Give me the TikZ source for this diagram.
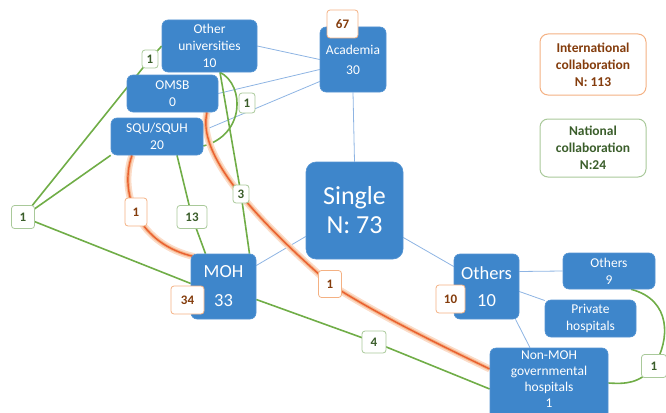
\documentclass[tikz,border=0pt]{standalone}
\usepackage{fontspec}
\setmainfont{Carlito}
\usetikzlibrary{calc}
\definecolor{boxblue}{HTML}{3E86CB}
\definecolor{boxedge}{HTML}{5594D2}
\definecolor{lineblue}{HTML}{8EB4E3}
\definecolor{lgreen}{HTML}{70AD47}
\definecolor{gedge}{HTML}{A9C99A}
\definecolor{gtext}{HTML}{3B5E2B}
\definecolor{oedge}{HTML}{F4B183}
\definecolor{otext}{HTML}{843C0C}
\definecolor{ocore}{HTML}{E9602F}
\definecolor{oglowa}{HTML}{FBDCC8}
\definecolor{oglowb}{HTML}{F6B48A}
\pgfdeclarelayer{bg}
\pgfsetlayers{bg,main}
\tikzset{
  bluebox/.style={draw=boxedge, line width=0.6pt, fill=boxblue, rounded corners=6pt, text=white, align=center, inner sep=0pt, font=\fontsize{13.5}{17}\selectfont},
  glabel/.style={draw=gedge, line width=0.8pt, fill=white, rounded corners=3pt, text=gtext, inner sep=0pt, font=\bfseries\fontsize{13}{15}\selectfont},
  olabel/.style={draw=oedge, line width=0.8pt, fill=white, rounded corners=3pt, text=otext, inner sep=0pt, font=\bfseries\fontsize{13}{15}\selectfont},
  legbox/.style={fill=white, line width=1pt, rounded corners=8pt, align=center, inner sep=0pt, font=\bfseries\fontsize{13.5}{17}\selectfont},
  blueline/.style={draw=lineblue, line width=0.8pt},
  greenline/.style={draw=lgreen, line width=1.6pt},
  orangeline/.style={draw=ocore, line width=1.4pt, preaction={draw=oglowa, line width=7pt}, preaction={draw=oglowb, line width=3.5pt}}
}
\begin{document}
\begin{tikzpicture}[x=1pt, y=-1pt]
\useasboundingbox (0,0) rectangle (666,412);
\clip (0,0) rectangle (666,412);
% blue boxes
\node[bluebox, minimum width=95pt, minimum height=52pt] (ou) at (209.5,46) {Other\\universities\\10};
\node[bluebox, minimum width=91pt, minimum height=37pt] (omsb) at (172.5,93.5) {OMSB\\0};
\node[bluebox, minimum width=92pt, minimum height=37pt] (squ) at (157,136.5) {SQU/SQUH\\20};
\node[bluebox, minimum width=66pt, minimum height=65pt, font=\fontsize{13.5}{20}\selectfont] (ac) at (353,59.5) {Academia\\30};
\node[bluebox, minimum width=97pt, minimum height=97pt, rounded corners=10pt, font=\fontsize{26}{29}\selectfont] (single) at (354.5,210.5) {Single\\N: 73};
\node[bluebox, minimum width=65pt, minimum height=65pt, font=\fontsize{18.5}{29}\selectfont] (moh) at (223.5,286.5) {MOH\\33};
\node[bluebox, minimum width=65pt, minimum height=65pt, font=\fontsize{18.5}{27}\selectfont] (o10) at (486.5,286.5) {Others\\10};
\node[bluebox, minimum width=92pt, minimum height=36pt] (o9) at (609,271) {Others\\9};
\node[bluebox, minimum width=91pt, minimum height=37pt] (priv) at (590.5,318.5) {Private\\hospitals};
\node[bluebox, minimum width=118pt, minimum height=72pt] (nm) at (549,384) {};
\node[text=white, align=center, inner sep=0pt, font=\fontsize{13.5}{16}\selectfont] (nmtext) at (549,379) {Non-MOH\\governmental\\hospitals\\1};
% legend
\node[legbox, draw=oedge, text=otext, minimum width=106pt, minimum height=61pt] (intl) at (593,64.5) {International\\collaboration\\N: 113};
\node[legbox, draw=gedge, text=gtext, minimum width=106pt, minimum height=58pt] (natl) at (593,148) {National\\collaboration\\N:24};
% labels
\node[olabel, minimum width=31pt, minimum height=28pt] (l67) at (342.5,24) {67};
\node[glabel, minimum width=16pt, minimum height=18pt] (top1) at (150,59) {1};
\node[glabel, minimum width=16pt, minimum height=20pt] (arc1) at (247,103) {1};
\node[glabel, minimum width=16pt, minimum height=18pt] (l3) at (241,194) {3};
\node[glabel, minimum width=23pt, minimum height=23pt] (left1) at (23,217) {1};
\node[olabel, minimum width=22pt, minimum height=28pt] (ol1) at (136,212) {1};
\node[glabel, minimum width=30pt, minimum height=23pt] (l13) at (192,217) {13};
\node[olabel, minimum width=23pt, minimum height=27pt] (om1) at (330,284) {1};
\node[olabel, minimum width=33pt, minimum height=28pt] (l34) at (187.5,300) {34};
\node[olabel, minimum width=29pt, minimum height=28pt] (l10) at (450.5,299) {10};
\node[glabel, minimum width=24pt, minimum height=22pt] (l4) at (374,342) {4};
\node[glabel, minimum width=25pt, minimum height=23pt] (r1) at (654,366) {1};
% connectors
\begin{pgfonlayer}{bg}
\draw[blueline] (ou.east) -- (ac.west);
\draw[blueline] (omsb.east) -- ([yshift=-10pt]ac.west);
\draw[blueline] ([yshift=6pt]squ.east) -- ([yshift=-22pt]ac.west);
\draw[blueline] (ac.south) -- (single.north);
\draw[blueline] ([yshift=-26pt]single.west) -- ([yshift=21pt]moh.east);
\draw[blueline] ([yshift=-27pt]single.east) -- ([yshift=20pt]o10.west);
\draw[blueline] ([yshift=15pt]o10.east) -- (o9.west);
\draw[blueline] ([yshift=-5pt]o10.east) -- ([yshift=18pt]priv.west);
\draw[blueline] ([xshift=29pt]o10.south) -- ([xshift=-19pt]nm.north);
% green
\draw[greenline] (ou.west) -- (top1.center) -- (left1.center);
\draw[greenline] (left1.center) -- (squ.south west);
\draw[greenline] (left1.center) -- ([yshift=3pt]moh.west);
\draw[greenline] ([yshift=-13pt]moh.east) -- (l4.center) -- ([yshift=-5pt]nm.west);
\draw[greenline] ([xshift=20pt]squ.south) -- (l13.center) -- ([xshift=-18pt]moh.north);
\draw[greenline] ([xshift=10.5pt]ou.south) -- (l3.center) -- ([xshift=26pt]moh.north);
\draw[greenline] ([xshift=10.5pt]ou.south) .. controls (245,85) and (245,135) .. ([yshift=-9.5pt]squ.east);
\draw[greenline] ([xshift=22pt]o9.south) .. controls (672,300) and (670,340) .. (r1.center) .. controls (640,384) and (625,384) .. ([yshift=1pt]nm.east);
% orange
\draw[orangeline] ([xshift=-25pt]squ.south) .. controls (118,195) and (140,245) .. ([xshift=4pt,yshift=-3pt]moh.north west);
\draw[orangeline] ([xshift=34.5pt]omsb.south) .. controls (198,150) and (240,205) .. (om1.center) .. controls (380,316) and (440,345) .. ([yshift=15pt]nm.west);
\end{pgfonlayer}
\end{tikzpicture}
\end{document}
